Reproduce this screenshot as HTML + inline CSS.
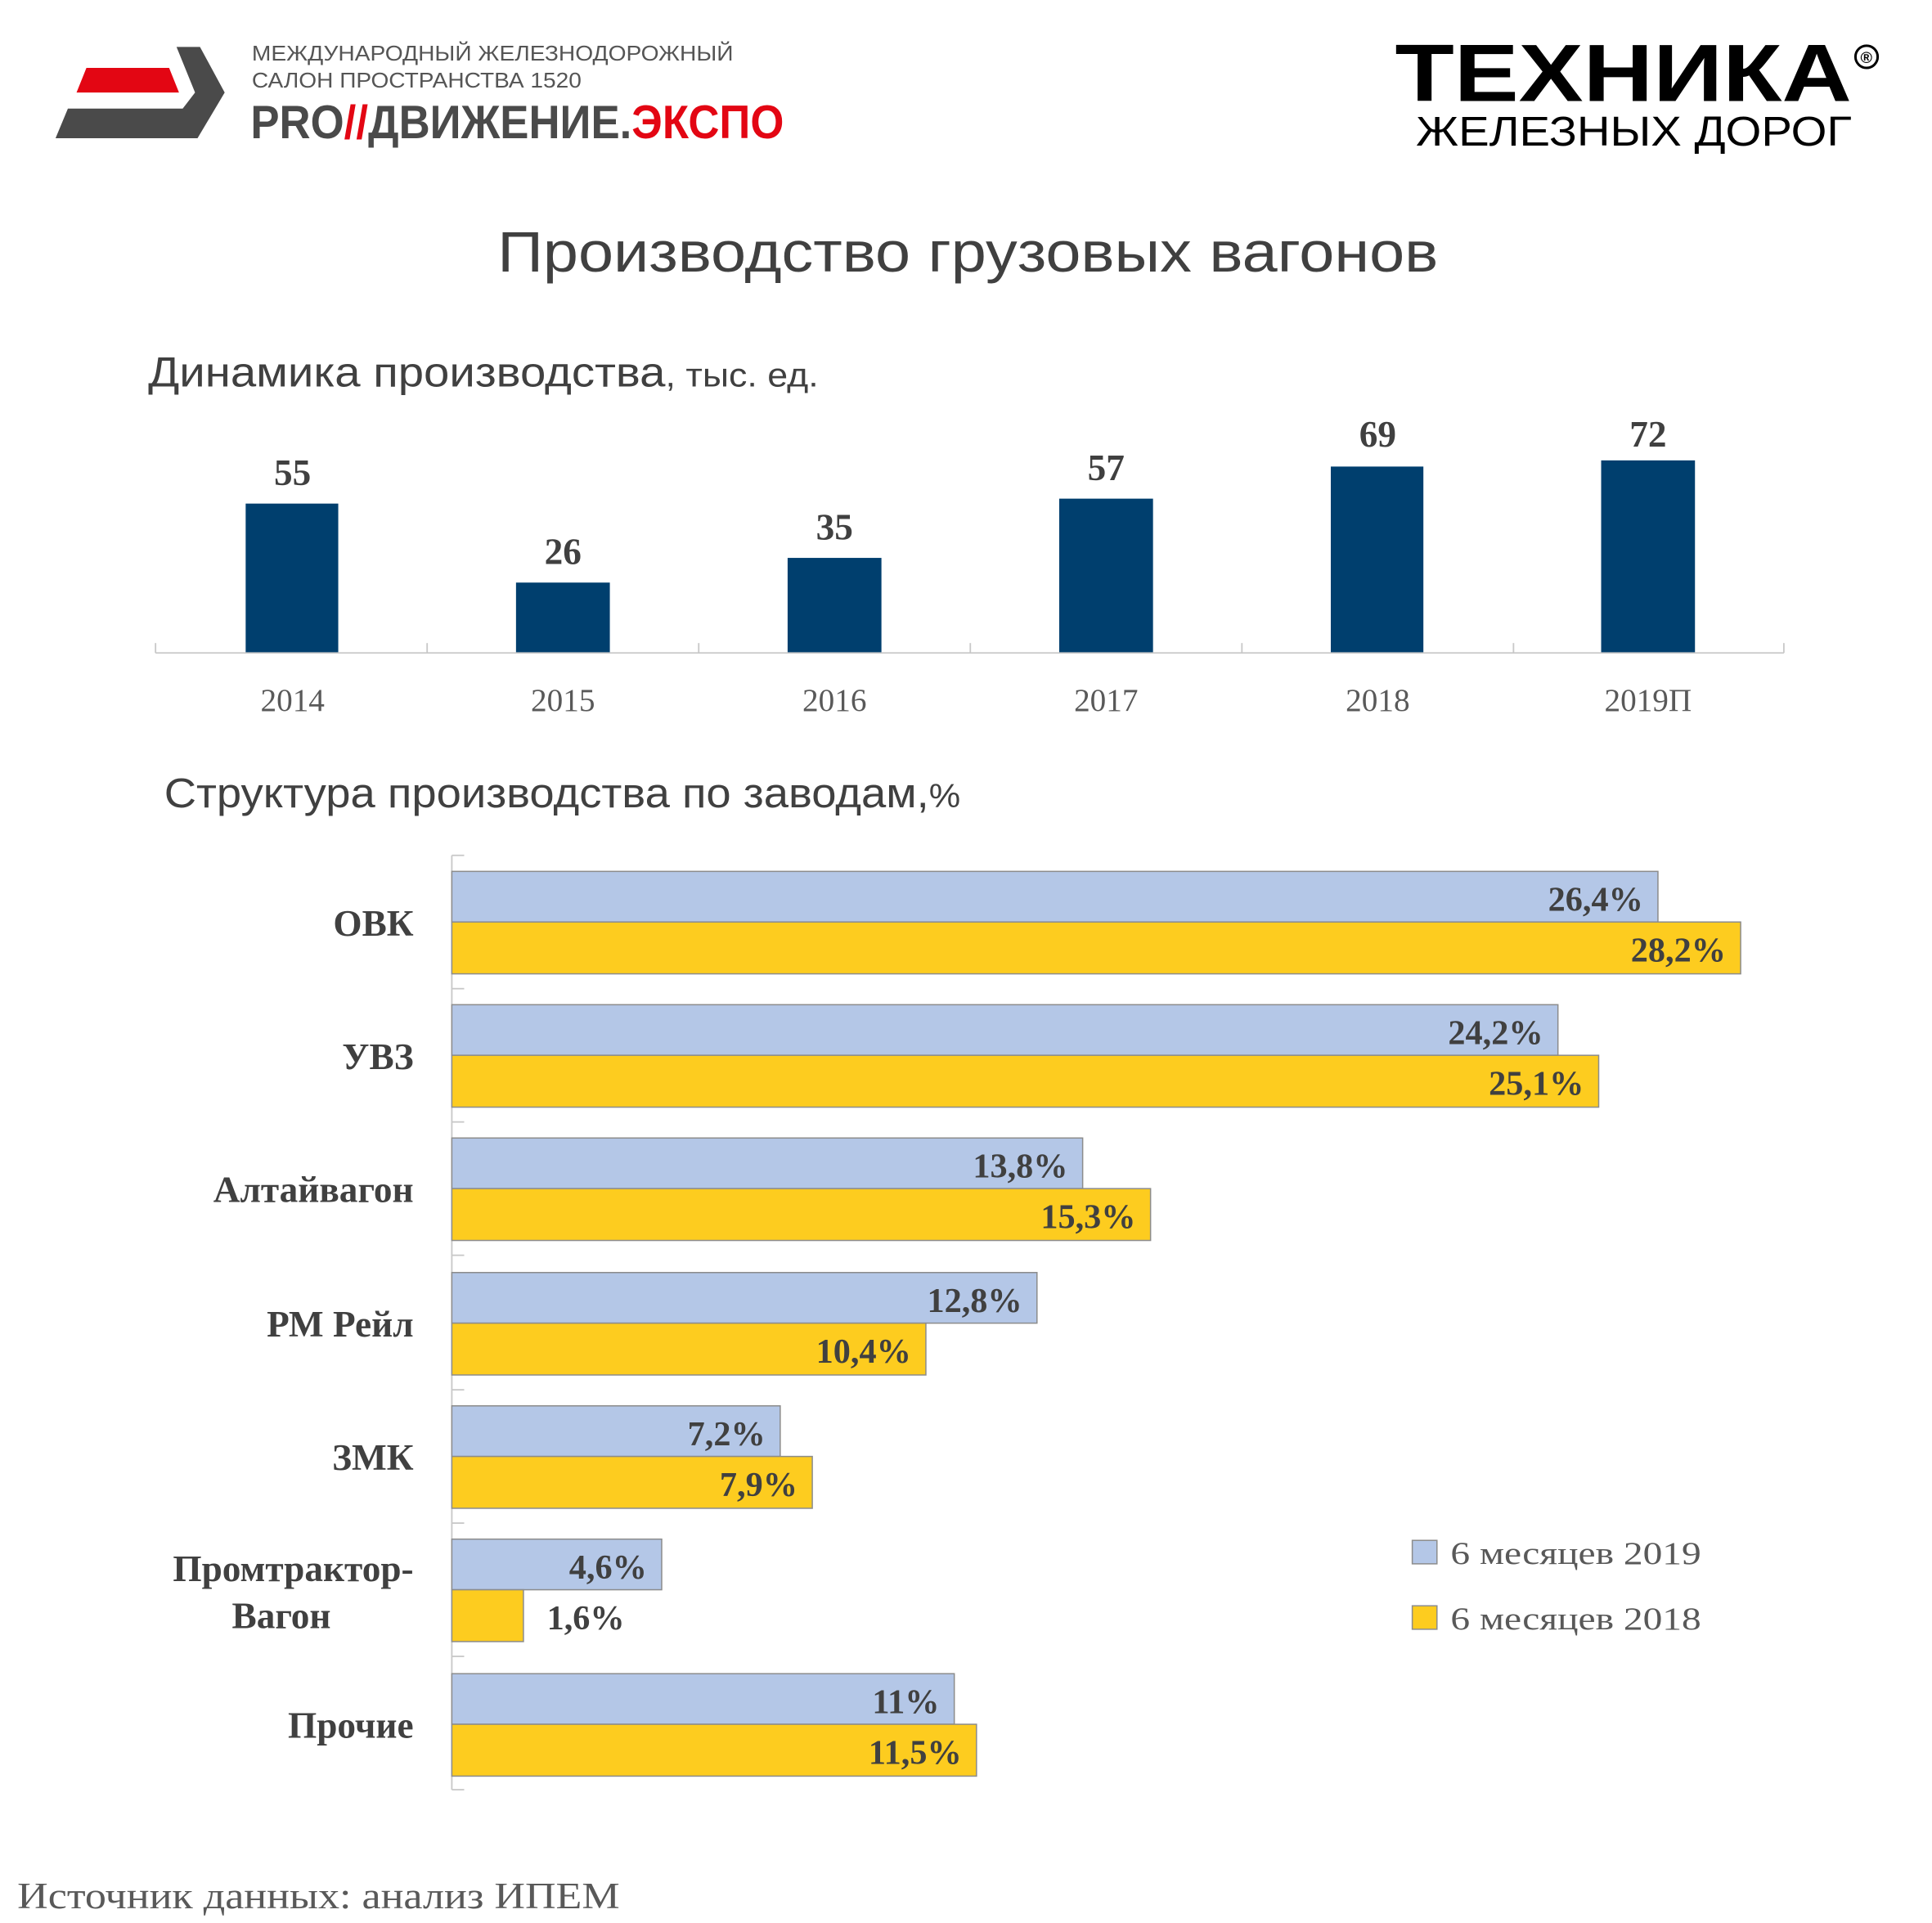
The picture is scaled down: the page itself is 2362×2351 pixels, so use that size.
<!DOCTYPE html>
<html><head><meta charset="utf-8"><style>
html,body{margin:0;padding:0;background:#fff;}
svg{display:block;}
.s{font-family:"Liberation Sans","Noto Sans CJK SC",sans-serif;}
.r{font-family:"Liberation Serif","Noto Serif CJK SC",serif;}
</style></head><body>
<svg width="2362" height="2351" viewBox="0 0 1565 1558" preserveAspectRatio="none" xmlns="http://www.w3.org/2000/svg">
<rect width="1565" height="1558" fill="#fff"/>
<!-- left logo -->
<polygon points="70,55 137,55 145,75 62,75" fill="#e30613"/>
<polygon points="143,38 162,38 182,75 160,112 45,112 55,88 148,88 158,75" fill="#4a4a4a"/>
<text class="s" x="204" y="49" font-size="17" fill="#555" textLength="390" lengthAdjust="spacingAndGlyphs">МЕЖДУНАРОДНЫЙ ЖЕЛЕЗНОДОРОЖНЫЙ</text>
<text class="s" x="204" y="71" font-size="17" fill="#555" textLength="267" lengthAdjust="spacingAndGlyphs">САЛОН ПРОСТРАНСТВА 1520</text>
<text class="s" x="203" y="112" font-size="38" font-weight="bold" fill="#4a4a4a" textLength="432" lengthAdjust="spacingAndGlyphs">PRO<tspan fill="#e30613">//</tspan>ДВИЖЕНИЕ.<tspan fill="#e30613">ЭКСПО</tspan></text>
<!-- right logo -->
<text class="s" x="1130" y="82" font-size="66" font-weight="bold" fill="#000" textLength="370" lengthAdjust="spacingAndGlyphs">ТЕХНИКА</text>
<circle cx="1512" cy="46" r="9" fill="none" stroke="#000" stroke-width="2"/>
<text class="s" x="1507" y="51" font-size="13" font-weight="bold">®</text>
<text class="s" x="1147" y="118" font-size="34" fill="#000" textLength="353" lengthAdjust="spacingAndGlyphs">ЖЕЛЕЗНЫХ ДОРОГ</text>
<!-- titles -->
<text class="s" x="784" y="220" font-size="46" fill="#404040" text-anchor="middle" textLength="762" lengthAdjust="spacingAndGlyphs">Производство грузовых вагонов</text>
<text class="s" x="120" y="313" font-size="34" fill="#404040" textLength="543" lengthAdjust="spacingAndGlyphs">Динамика производства<tspan font-size="27">, тыс. ед.</tspan></text>
<text class="s" x="133" y="654" font-size="34" fill="#404040" textLength="645" lengthAdjust="spacingAndGlyphs">Структура производства по заводам,<tspan font-size="27">%</tspan></text>
<!-- column chart -->
<g fill="#003f6e">
<rect x="199" y="408" width="75" height="121"/>
<rect x="418" y="472" width="76" height="57"/>
<rect x="638" y="452" width="76" height="77"/>
<rect x="858" y="404" width="76" height="125"/>
<rect x="1078" y="378" width="75" height="151"/>
<rect x="1297" y="373" width="76" height="156"/>
</g>
<g stroke="#c8c8c8" stroke-width="1.2">
<line x1="126" y1="529" x2="1445" y2="529"/>
<line x1="126" y1="521" x2="126" y2="529"/><line x1="346" y1="521" x2="346" y2="529"/>
<line x1="566" y1="521" x2="566" y2="529"/><line x1="786" y1="521" x2="786" y2="529"/>
<line x1="1006" y1="521" x2="1006" y2="529"/><line x1="1226" y1="521" x2="1226" y2="529"/>
<line x1="1445" y1="521" x2="1445" y2="529"/>
</g>
<g class="r" font-size="30" font-weight="bold" fill="#404040" text-anchor="middle">
<text x="237" y="393">55</text><text x="456" y="457">26</text><text x="676" y="437">35</text>
<text x="896" y="389">57</text><text x="1116" y="362">69</text><text x="1335" y="362">72</text>
</g>
<g class="r" font-size="26" fill="#595959" text-anchor="middle">
<text x="237" y="576">2014</text><text x="456" y="576">2015</text><text x="676" y="576">2016</text>
<text x="896" y="576">2017</text><text x="1116" y="576">2018</text><text x="1335" y="576">2019П</text>
</g>
<!-- horizontal bars -->
<g stroke="#c8c8c8" stroke-width="1.2">
<line x1="366" y1="693" x2="366" y2="1450"/>
<line x1="366" y1="693" x2="376" y2="693"/><line x1="366" y1="801" x2="376" y2="801"/>
<line x1="366" y1="909" x2="376" y2="909"/><line x1="366" y1="1017" x2="376" y2="1017"/>
<line x1="366" y1="1126" x2="376" y2="1126"/><line x1="366" y1="1234" x2="376" y2="1234"/>
<line x1="366" y1="1342" x2="376" y2="1342"/><line x1="366" y1="1450" x2="376" y2="1450"/>
</g>
<g stroke="#8c8c8c" stroke-width="1">
<rect x="366" y="706" width="977" height="41" fill="#b4c7e7"/>
<rect x="366" y="747" width="1044" height="42" fill="#fdcc1f"/>
<rect x="366" y="814" width="896" height="41" fill="#b4c7e7"/>
<rect x="366" y="855" width="929" height="42" fill="#fdcc1f"/>
<rect x="366" y="922" width="511" height="41" fill="#b4c7e7"/>
<rect x="366" y="963" width="566" height="42" fill="#fdcc1f"/>
<rect x="366" y="1031" width="474" height="41" fill="#b4c7e7"/>
<rect x="366" y="1072" width="384" height="42" fill="#fdcc1f"/>
<rect x="366" y="1139" width="266" height="41" fill="#b4c7e7"/>
<rect x="366" y="1180" width="292" height="42" fill="#fdcc1f"/>
<rect x="366" y="1247" width="170" height="41" fill="#b4c7e7"/>
<rect x="366" y="1288" width="58" height="42" fill="#fdcc1f"/>
<rect x="366" y="1356" width="407" height="41" fill="#b4c7e7"/>
<rect x="366" y="1397" width="425" height="42" fill="#fdcc1f"/>
</g>
<g class="r" font-size="28" font-weight="bold" fill="#404040" text-anchor="end">
<text x="1331" y="738">26,4%</text><text x="1398" y="779">28,2%</text>
<text x="1250" y="846">24,2%</text><text x="1283" y="887">25,1%</text>
<text x="865" y="954">13,8%</text><text x="920" y="995">15,3%</text>
<text x="828" y="1063">12,8%</text><text x="738" y="1104">10,4%</text>
<text x="620" y="1171">7,2%</text><text x="646" y="1212">7,9%</text>
<text x="524" y="1279">4,6%</text><text x="506" y="1320">1,6%</text>
<text x="761" y="1388">11%</text><text x="779" y="1429">11,5%</text>
</g>
<g class="r" font-size="30" font-weight="bold" fill="#404040" text-anchor="end">
<text x="335" y="758">ОВК</text><text x="335" y="866">УВЗ</text>
<text x="335" y="974">Алтайвагон</text><text x="335" y="1083">РМ Рейл</text>
<text x="335" y="1191">ЗМК</text>
<text x="335" y="1281">Промтрактор-</text><text x="268" y="1319">Вагон</text>
<text x="335" y="1408">Прочие</text>
</g>
<!-- legend -->
<rect x="1144" y="1248" width="20" height="19" fill="#b4c7e7" stroke="#8c8c8c"/>
<rect x="1144" y="1301" width="20" height="19" fill="#fdcc1f" stroke="#8c8c8c"/>
<g class="r" font-size="26" fill="#595959">
<text x="1175" y="1267" textLength="203" lengthAdjust="spacingAndGlyphs">6 месяцев 2019</text>
<text x="1175" y="1320" textLength="203" lengthAdjust="spacingAndGlyphs">6 месяцев 2018</text>
</g>
<text class="r" x="14" y="1546" font-size="30" fill="#595959" textLength="488" lengthAdjust="spacingAndGlyphs">Источник данных: анализ ИПЕМ</text>
</svg>
</body></html>
